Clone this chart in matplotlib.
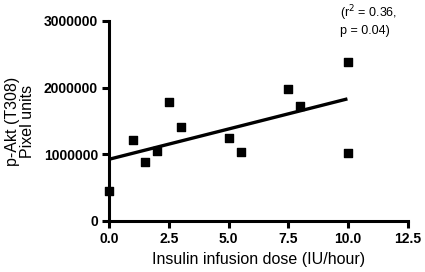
import numpy as np
import matplotlib
matplotlib.use("Agg")
import matplotlib.pyplot as plt

plt.rcParams['font.family'] = ['Liberation Sans', 'DejaVu Sans']

# insulin dose (IU/hour) vs p-Akt (T308) pixel units
dose = [0.0, 1.0, 1.5, 2.0, 2.5, 3.0, 5.0, 5.5, 7.5, 8.0, 10.0, 10.0]
pakt = [450000, 1220000, 880000, 1050000, 1790000, 1410000,
        1250000, 1040000, 1980000, 1720000, 2390000, 1020000]
xticks = [0.0, 2.5, 5.0, 7.5, 10.0, 12.5]
yticks = [0, 1000000, 2000000, 3000000]

fig = plt.figure(figsize=(4.25, 2.72), dpi=100)
ax = fig.add_axes([109 / 425, 1 - 221 / 272, (408 - 109) / 425, 200 / 272])

ax.scatter(dose, pakt, marker='s', s=38, color='black', zorder=3, clip_on=False)

# linear regression line
slope, intercept = np.polyfit(dose, pakt, 1)
xf = np.array([min(dose), 9.9])
ax.plot(xf, slope * xf + intercept, color='black', lw=2.4, zorder=2)

ax.set_xlim(0, 12.5)
ax.set_ylim(0, 3000000)
ax.set_xticks(xticks)
ax.set_xticklabels([f"{t:.1f}" for t in xticks])
ax.set_yticks(yticks)
ax.set_yticklabels([str(t) for t in yticks])

for side in ['top', 'right']:
    ax.spines[side].set_visible(False)
for side in ['left', 'bottom']:
    ax.spines[side].set_linewidth(2.2)
ax.tick_params(width=2.2, length=5, labelsize=10, pad=3)
for lbl in ax.get_xticklabels() + ax.get_yticklabels():
    lbl.set_fontweight('bold')

ax.set_xlabel("Insulin infusion dose (IU/hour)", fontsize=11.5, labelpad=4)
ax.set_ylabel("p-Akt (T308)\nPixel units", fontsize=11.5, labelpad=6, linespacing=1.05)

fig.text(340 / 425, 1 - 20 / 272, "(r$^2$ = 0.36,\np = 0.04)", fontsize=9, ha='left', va='center',
         linespacing=1.25)

fig.savefig("out.png", dpi=100)
